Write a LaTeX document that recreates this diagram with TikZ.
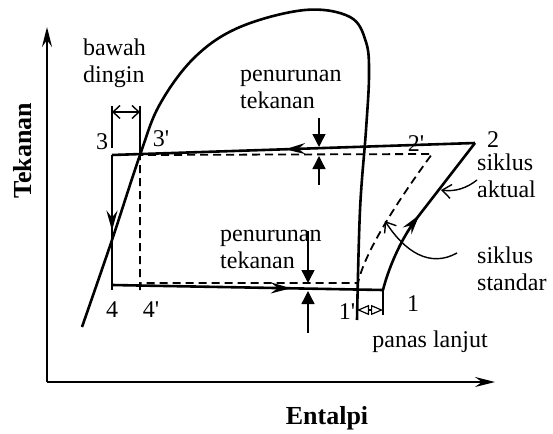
\documentclass[tikz,border=0pt]{standalone}
\usepackage{fontspec}
\setmainfont{Liberation Serif}[Ligatures=TeXOff]
\usetikzlibrary{arrows.meta,decorations.markings}
\tikzset{
  lbl/.style={font=\fontsize{24}{27}\selectfont, inner sep=0pt},
  ttl/.style={font=\fontsize{26}{30}\selectfont\bfseries, inner sep=0pt},
  main/.style={line width=2.6pt, line join=round},
  axisline/.style={line width=2pt, -{Stealth[length=20pt,width=10pt,inset=7pt]}},
  dashline/.style={line width=1.8pt, dash pattern=on 8pt off 5pt},
  thinline/.style={line width=1.4pt},
  droparrow/.style={line width=1.4pt, -{Triangle[length=13pt,width=13pt]}},
  pointer/.style={line width=1.4pt, -{Straight Barb[length=9pt,width=14pt,line width=1.4pt]}},
  midarrow/.style={postaction={decorate}, decoration={markings,
    mark=at position #1 with {\arrow{Stealth[length=20pt,width=11pt,inset=7pt]}}}}
}
\begin{document}
\begin{tikzpicture}[x=1pt,y=-1pt]
\useasboundingbox (0,0) rectangle (553,433);
% coordinates
\coordinate (O) at (47,382);
\coordinate (ytop) at (47,27);
\coordinate (xend) at (495,382);
\coordinate (p3) at (112,155);
\coordinate (p3b) at (140,155);
\coordinate (p2) at (475,143);
\coordinate (p2b) at (432,154);
\coordinate (p4) at (112,285);
\coordinate (p4end) at (112,290);
\coordinate (p4b) at (140,290);
\coordinate (d4) at (140,283);
\coordinate (p1) at (383,290);
\coordinate (p1end) at (383,315);
\coordinate (p1b) at (358,283);
\coordinate (bend) at (417,218);
% axes
\draw[axisline] (O) -- (ytop);
\draw[axisline] (O) -- (xend);
% saturation dome
\draw[main] plot[smooth, tension=0.6] coordinates {(82,327) (112,240) (140,155) (160,104) (195,57) (240,27) (305,10) (350,17) (366,42) (369,75) (366,130) (360,210) (357,320)};
% actual cycle
\draw[main, midarrow=0.523] (p2) -- (p3);
\draw[main, midarrow=0.56] (p3) -- (p4end);
\draw[main, midarrow=0.66] (p4) -- (p1);
\draw[main, midarrow=0.48] (p1) .. controls (388,270) and (400,240) .. (bend) -- (p2);
% standard cycle (dashed)
\draw[dashline] (p4b) -- (p3b) -- (p2b) .. controls (402,195) and (365,250) .. (p1b) -- (d4);
% pressure drop top
\coordinate (dt1) at (319,118);
\coordinate (dt1tip) at (319,147);
\coordinate (dt2) at (319,185);
\coordinate (dt2tip) at (319,156);
\draw[droparrow] (dt1) -- (dt1tip);
\draw[droparrow] (dt2) -- (dt2tip);
% pressure drop bottom
\coordinate (db1) at (308,231);
\coordinate (db1tip) at (308,283);
\coordinate (db2) at (308,333);
\coordinate (db2tip) at (308,291);
\draw[droparrow] (db1) -- (db1tip);
\draw[droparrow] (db2) -- (db2tip);
% subcooling bracket
\coordinate (sc1) at (112,106);
\coordinate (sc1b) at (112,148);
\coordinate (sc2) at (140,106);
\coordinate (sa1) at (112,112);
\coordinate (sa2) at (140,112);
\draw[thinline] (sc1) -- (sc1b);
\draw[thinline] (sc2) -- (p3b);
\draw[thinline, {Straight Barb[length=7pt,width=13pt,line width=1.4pt]}-{Straight Barb[length=7pt,width=13pt,line width=1.4pt]}] (sa1) -- (sa2);
% superheat bracket
\draw[thinline] (p1) -- (p1end);
\coordinate (sh1) at (357,310);
\coordinate (sh2) at (383,310);
\draw[line width=1.2pt, {Triangle[open,length=12pt,width=10pt]}-{Triangle[open,length=12pt,width=10pt]}] (sh1) -- (sh2);
% pointers
\coordinate (pa) at (477,180);
\coordinate (pat) at (441,190);
\draw[pointer] (pa) .. controls (467,188) and (455,192) .. (pat);
\coordinate (ps) at (457,253);
\coordinate (pst) at (385,221);
\draw[pointer] (ps) .. controls (430,268) and (405,252) .. (pst);
% labels
\node[ttl, rotate=90] (ylab) at (23,151) {Tekanan};
\node[ttl, anchor=base] (xlab) at (327,424) {Entalpi};
\node[lbl, align=left, anchor=west] (bd) at (83,63.5) {bawah\\dingin};
\node[lbl, align=left, anchor=west] (pt1) at (240,89) {penurunan\\tekanan};
\node[lbl, align=left, anchor=west] (pt2) at (220,249) {penurunan\\tekanan};
\node[lbl, align=left, anchor=west] (sa) at (477,176) {siklus\\aktual};
\node[lbl, align=left, anchor=west] (ss) at (477,269) {siklus\\standar};
\node[lbl] (pl) at (430,342) {panas lanjut};
\node[lbl] (l3) at (102,142) {3};
\node[lbl] (l3b) at (161,139) {3'};
\node[lbl] (l2) at (493,140) {2};
\node[lbl] (l2b) at (416,144) {2'};
\node[lbl] (l4) at (112,310) {4};
\node[lbl] (l4b) at (151,310) {4'};
\node[lbl] (l1b) at (347,312) {1'};
\node[lbl] (l1) at (413,304) {1};
\end{tikzpicture}
\end{document}
